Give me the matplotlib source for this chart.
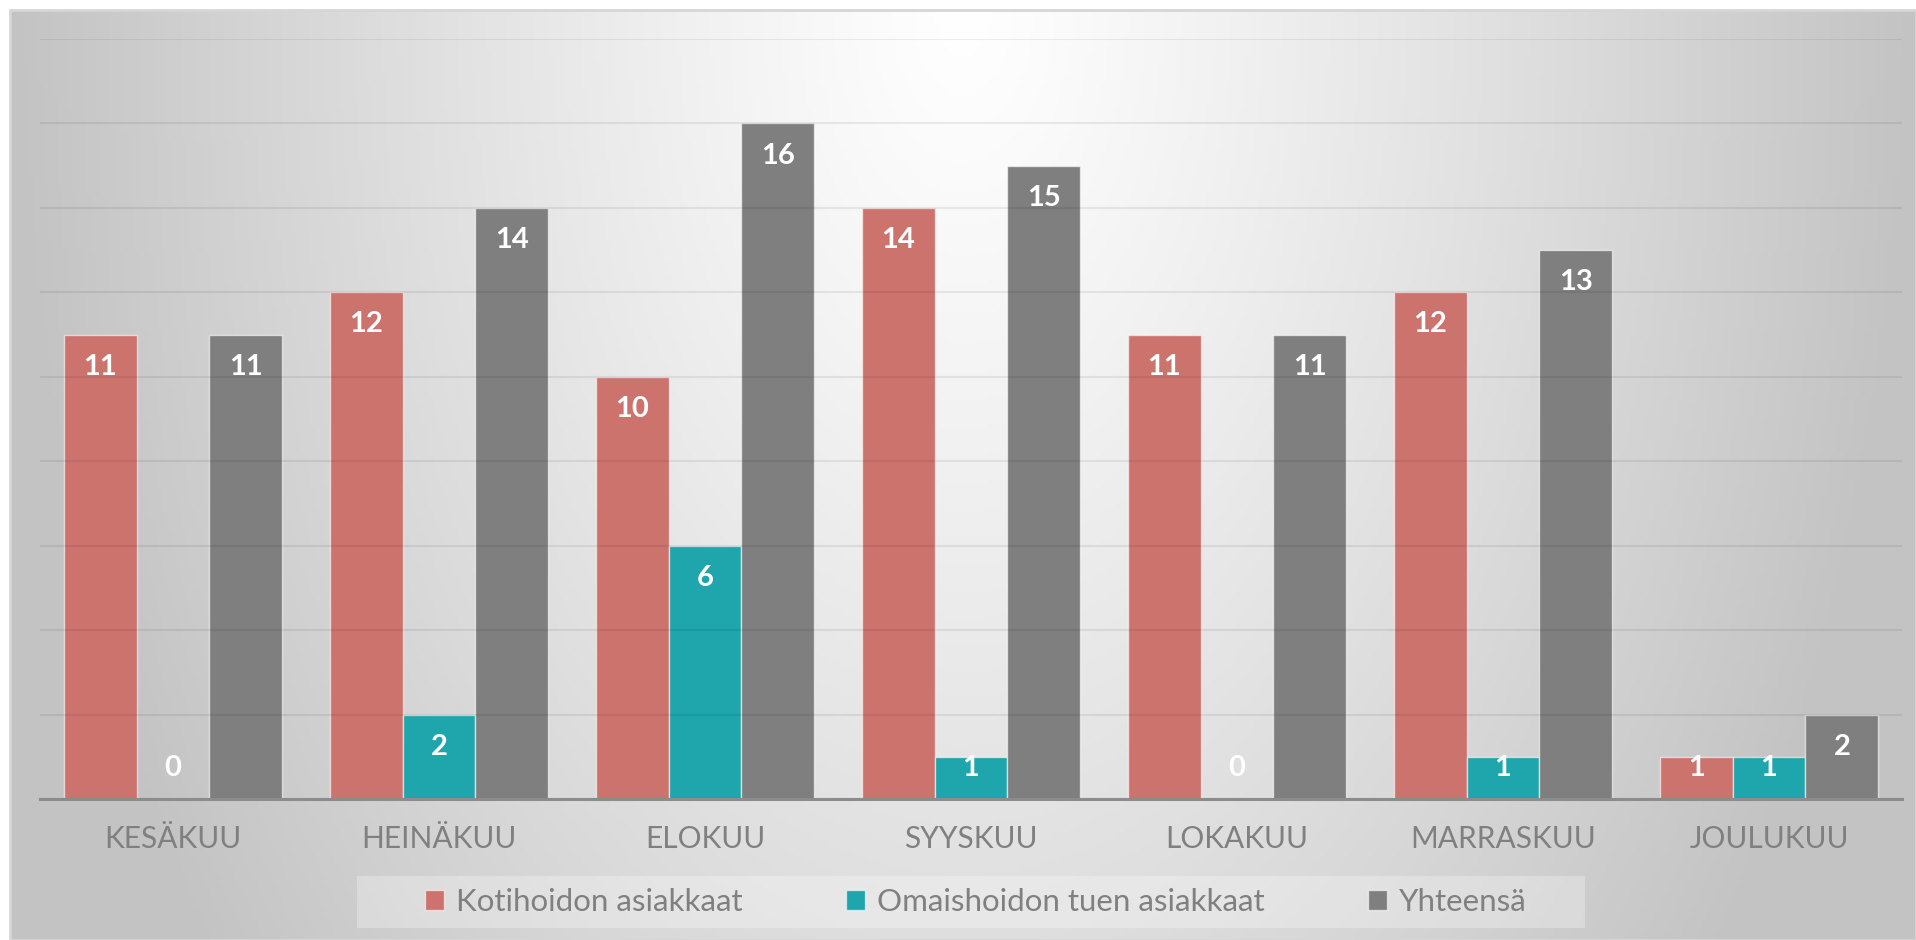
import numpy as np
import matplotlib
matplotlib.use('Agg')
import matplotlib.pyplot as plt
from matplotlib.patches import Rectangle

plt.rcParams['font.family'] = ['Lato', 'DejaVu Sans']

months = ['KESÄKUU', 'HEINÄKUU', 'ELOKUU', 'SYYSKUU', 'LOKAKUU', 'MARRASKUU', 'JOULUKUU']
kotihoito = [11, 12, 10, 14, 11, 12, 1]
omaishoito = [0, 2, 6, 1, 0, 1, 1]
yhteensa = [11, 14, 16, 15, 11, 13, 2]

series = [
    ('Kotihoidon asiakkaat', kotihoito, '#CD736E'),
    ('Omaishoidon tuen asiakkaat', omaishoito, '#1FA5AC'),
    ('Yhteensä', yhteensa, '#7F7F7F'),
]

W, H = 1916, 940
fig = plt.figure(figsize=(W / 100, H / 100), dpi=100)
fig.patch.set_facecolor('white')

# chart area background (radial gradient, light at top centre)
bg = fig.add_axes([10 / W, 0, (W - 10) / W, (H - 10) / H])
bg.set_axis_off()
gx, gy = np.meshgrid(np.linspace(-0.5, 0.5, 400), np.linspace(0, 1, 200))
r = np.minimum(1, np.sqrt((gx / 0.5) ** 2 + (gy / 1.7) ** 2))
shade = (255 - 60 * r ** 1.15) / 255
bg.imshow(np.dstack([shade, shade, shade]), aspect='auto', extent=(0, 1, 0, 1), origin='upper')
bg.set_xlim(0, 1)
bg.set_ylim(0, 1)
fig.patches.append(Rectangle((10 / W, 0), (W - 10) / W, (H - 10) / H, transform=fig.transFigure,
                             fill=False, edgecolor='#D6D6D6', linewidth=2))

ax = fig.add_axes([40 / W, 1 - 799 / H, (1902 - 40) / W, (799 - 39) / H])
ax.set_facecolor('none')

x = np.arange(len(months))
width = 0.274
for i, (name, vals, color) in enumerate(series):
    vals = np.array(vals)
    pos = x + (i - 1) * width
    ax.bar(pos, vals, width, color=color, edgecolor=(1, 1, 1, 0.6), linewidth=1, label=name, zorder=2)
    label_y = np.maximum(vals - 0.76, 0.74)
    for px, py, v in zip(pos, label_y, vals):
        ax.text(px, py, str(v), ha='center', va='center', color='white', fontsize=21,
                fontweight='bold', zorder=4)

ax.set_xlim(-0.5, len(months) - 0.5)
ax.set_ylim(0, 18)
ax.set_yticks(np.arange(0, 19, 2))
ax.set_yticklabels([])
ax.grid(axis='y', color='black', alpha=0.07, linewidth=1.5, zorder=3)
ax.set_axisbelow(False)
ax.tick_params(axis='y', length=0)
ax.set_xticks(x)
ax.set_xticklabels(months, fontsize=21.5, color='#808080')
ax.tick_params(axis='x', length=0, pad=19)
for s in ['top', 'right', 'left']:
    ax.spines[s].set_visible(False)
ax.spines['bottom'].set_color('#8C8C8C')
ax.spines['bottom'].set_linewidth(2.2)
ax.spines['bottom'].set_zorder(5)

# legend background
fig.patches.append(Rectangle((357 / W, 1 - 928 / H), (1585 - 357) / W, 52 / H, transform=fig.transFigure,
                             facecolor='white', alpha=0.28, edgecolor='none'))
leg = fig.legend(loc='center', bbox_to_anchor=(976 / W, 1 - 902 / H), ncol=3, frameon=False,
                 fontsize=22.5, handlelength=0.6, handleheight=0.6, handletextpad=0.4,
                 columnspacing=3.3)
for t in leg.get_texts():
    t.set_color('#808080')

fig.savefig('out.png', dpi=100)
